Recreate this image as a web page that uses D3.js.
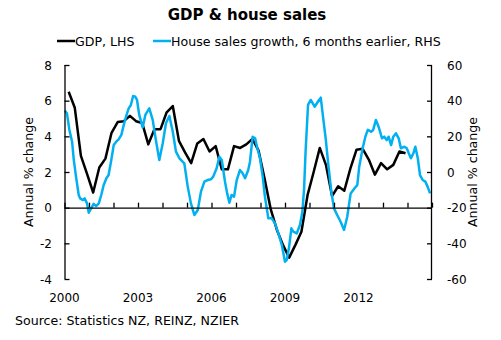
<!DOCTYPE html>
<html>
<head>
<meta charset="utf-8">
<script src="https://cdn.jsdelivr.net/npm/d3@7"></script>
<style>
  body { margin: 0; background: #fff; }
  svg { display: block; font-family: "DejaVu Sans", Verdana, sans-serif; }
</style>
</head>
<body>
<div id="chart"></div>
<script>
// GDP, annual % change, quarterly from 2000 Q1
const gdpStart = 2000.17;
const gdpValues = [
  6.5, 5.6, 2.9, 1.9, 0.85, 2.25, 2.75, 4.2, 4.8, 4.85, 5.15, 4.85,
  4.75, 3.55, 4.4, 4.4, 5.35, 5.7, 3.75, 3.1, 2.5, 3.6, 3.85, 3.15,
  3.45, 2.15, 2.15, 3.45, 3.35, 3.55, 3.85, 3.2, 1.6, -0.1, -1.25, -2.1,
  -2.8, -2.1, -1.35, 0.7, 2.0, 3.35, 2.4, 0.65, 1.2, 0.95, 2.2, 3.25,
  3.3, 2.7, 1.85, 2.5, 2.15, 2.4, 3.15, 3.05
];

// House sales growth (annual %), shifted 6 months earlier
const salesDates = [
  2000.01, 2000.10, 2000.20, 2000.31, 2000.38, 2000.47, 2000.58, 2000.64, 2000.74, 2000.82,
  2000.92, 2000.99, 2001.09, 2001.19, 2001.29, 2001.40, 2001.50, 2001.60, 2001.71, 2001.80,
  2001.91, 2002.01, 2002.11, 2002.21, 2002.32, 2002.42, 2002.51, 2002.62, 2002.71, 2002.80,
  2002.89, 2002.96, 2003.05, 2003.19, 2003.30, 2003.46, 2003.60, 2003.73, 2003.87, 2004.01,
  2004.14, 2004.28, 2004.42, 2004.55, 2004.69, 2004.89, 2005.03, 2005.16, 2005.30, 2005.44,
  2005.57, 2005.71, 2005.84, 2005.98, 2006.07, 2006.21, 2006.32, 2006.42, 2006.55, 2006.64,
  2006.73, 2006.82, 2006.92, 2007.03, 2007.16, 2007.27, 2007.37, 2007.50, 2007.57, 2007.68,
  2007.78, 2007.87, 2007.98, 2008.09, 2008.18, 2008.32, 2008.46, 2008.59, 2008.73, 2008.87,
  2009.00, 2009.07, 2009.16, 2009.26, 2009.34, 2009.48, 2009.61, 2009.71, 2009.78, 2009.84,
  2009.94, 2010.05, 2010.21, 2010.39, 2010.46, 2010.56, 2010.66, 2010.77, 2010.89, 2011.00,
  2011.13, 2011.27, 2011.41, 2011.54, 2011.68, 2011.84, 2011.95, 2012.03, 2012.17, 2012.28,
  2012.38, 2012.51, 2012.60, 2012.71, 2012.82, 2012.96, 2013.05, 2013.15, 2013.23, 2013.33,
  2013.42, 2013.53, 2013.64, 2013.73, 2013.87, 2013.97, 2014.05, 2014.14, 2014.24, 2014.32,
  2014.42, 2014.51, 2014.62, 2014.73, 2014.82, 2014.92
];
const salesValues = [
  34.4, 32.9, 23.6, 17.0, 6.7, -2.6, -12.9, -14.8, -15.7, -14.8,
  -17.6, -22.8, -20.4, -17.9, -19.1, -17.6, -12.9, -7.3, -3.5, -1.7,
  6.7, 15.1, 17.0, 18.3, 20.8, 26.4, 31.0, 35.7, 37.6, 42.6,
  42.2, 40.4, 32.0, 25.0, 32.0, 35.7, 29.2, 17.9, 6.7, 16.1,
  27.3, 31.4, 22.6, 11.4, 7.7, 4.9, -8.2, -17.6, -24.1, -21.3,
  -11.0, -5.4, -4.5, -4.1, -2.6, 2.1, 8.6, 6.7, -5.4, -12.0,
  -17.2, -12.9, -13.8, -4.5, 1.1, -0.7, -3.5, 1.1, 5.8, 19.8,
  18.9, 13.3, 7.7, -2.6, -13.8, -26.0, -26.0, -28.8, -34.4, -40.9,
  -50.3, -49.4, -42.8, -31.6, -33.5, -34.4, -29.7, -22.3, -9.1, 11.4,
  37.6, 40.4, 36.6, 40.4, 41.7, 30.1, 18.9, 3.9, -11.0, -20.4,
  -24.1, -27.9, -32.5, -25.1, -12.0, -9.1, -7.3, 3.0, 13.3, 19.8,
  23.6, 22.6, 23.6, 29.2, 25.4, 18.9, 19.8, 17.9, 19.8, 15.1,
  19.8, 21.7, 18.9, 13.3, 14.2, 13.3, 10.5, 7.7, 10.5, 14.2,
  7.7, -1.7, -4.5, -5.4, -8.2, -12.0
];

const yearTicks = d3.range(2000, 2016);
const yearLabels = [2000, 2003, 2006, 2009, 2012];
const leftTicks = [-4, -2, 0, 2, 4, 6, 8];
const rightTicks = [-60, -40, -20, 0, 20, 40, 60];

const width = 501, height = 340;
const plot = { left: 64.5, right: 432, top: 65, bottom: 279 };
const blue = '#00b0f0';
const textSize = '12.6px';

const svg = d3.select('#chart').append('svg')
  .attr('width', width)
  .attr('height', height);

const x = d3.scaleLinear().domain([2000, 2015]).range([plot.left, plot.right]);
const yL = d3.scaleLinear().domain([-4, 8]).range([plot.bottom, plot.top]);
const yR = d3.scaleLinear().domain([-60, 60]).range([plot.bottom, plot.top]);

// title
svg.append('text')
  .attr('x', 247).attr('y', 20)
  .attr('text-anchor', 'middle')
  .style('font-size', '15px').style('font-weight', 'bold')
  .text('GDP & house sales');

// legend
const legend = [
  { label: 'GDP, LHS', color: '#000', x: 57 },
  { label: 'House sales growth, 6 months earlier, RHS', color: blue, x: 153 }
];
legend.forEach((d) => {
  svg.append('line')
    .attr('x1', d.x).attr('x2', d.x + 18)
    .attr('y1', 41).attr('y2', 41)
    .attr('stroke', d.color).attr('stroke-width', 2.5);
  svg.append('text')
    .attr('x', d.x + 18).attr('y', 45.5)
    .style('font-size', textSize)
    .text(d.label);
});

// series lines
const gdpLine = d3.line()
  .x((d, i) => x(gdpStart + i * 0.25))
  .y((d) => yL(d));
svg.append('path')
  .datum(gdpValues)
  .attr('d', gdpLine)
  .attr('fill', 'none')
  .attr('stroke', '#000')
  .attr('stroke-width', 2.5)
  .attr('stroke-linejoin', 'round');

const salesLine = d3.line()
  .x((d, i) => x(salesDates[i]))
  .y((d) => yR(d));
svg.append('path')
  .datum(salesValues)
  .attr('d', salesLine)
  .attr('fill', 'none')
  .attr('stroke', blue)
  .attr('stroke-width', 2.5)
  .attr('stroke-linejoin', 'round');

// axes: ticks point into the plot
const leftAxis = svg.append('g')
  .attr('transform', `translate(${plot.left},0)`)
  .call(d3.axisRight(yL).tickValues(leftTicks).tickSize(5).tickFormat(''));
const rightAxis = svg.append('g')
  .attr('transform', `translate(${plot.right},0)`)
  .call(d3.axisLeft(yR).tickValues(rightTicks).tickSize(5).tickFormat(''));
const xAxis = svg.append('g')
  .attr('transform', `translate(0,${yL(0)})`)
  .call(d3.axisTop(x).tickValues(yearTicks).tickSize(5).tickFormat(''));

[leftAxis, rightAxis, xAxis].forEach((g) => {
  g.select('.domain').attr('stroke', '#000').attr('stroke-width', 1.3);
  g.selectAll('.tick line').attr('stroke', '#000').attr('stroke-width', 1.3);
});
// plain domain lines, no end caps
leftAxis.select('.domain').attr('d', `M0.5,${plot.top}V${plot.bottom}`);
rightAxis.select('.domain').attr('d', `M-0.5,${plot.top}V${plot.bottom}`);
xAxis.select('.domain').attr('d', `M${plot.left},0.5H${plot.right}`);

// tick labels
svg.append('g').selectAll('text')
  .data(leftTicks).enter().append('text')
  .attr('x', 52).attr('y', (d) => yL(d) + 4.5)
  .attr('text-anchor', 'end')
  .style('font-size', '12px')
  .text((d) => d);

svg.append('g').selectAll('text')
  .data(rightTicks).enter().append('text')
  .attr('x', 447).attr('y', (d) => yR(d) + 4.5)
  .style('font-size', '12px')
  .text((d) => d);

svg.append('g').selectAll('text')
  .data(yearLabels).enter().append('text')
  .attr('x', (d) => x(d)).attr('y', 302)
  .attr('text-anchor', 'middle')
  .style('font-size', '12px')
  .text((d) => d);

// axis titles
svg.append('text')
  .attr('transform', 'translate(33,172) rotate(-90)')
  .attr('text-anchor', 'middle')
  .style('font-size', textSize)
  .text('Annual % change');
svg.append('text')
  .attr('transform', 'translate(477,172) rotate(-90)')
  .attr('text-anchor', 'middle')
  .style('font-size', textSize)
  .text('Annual % change');

// source note
svg.append('text')
  .attr('x', 15).attr('y', 325)
  .style('font-size', textSize)
  .text('Source: Statistics NZ, REINZ, NZIER');
</script>
</body>
</html>
